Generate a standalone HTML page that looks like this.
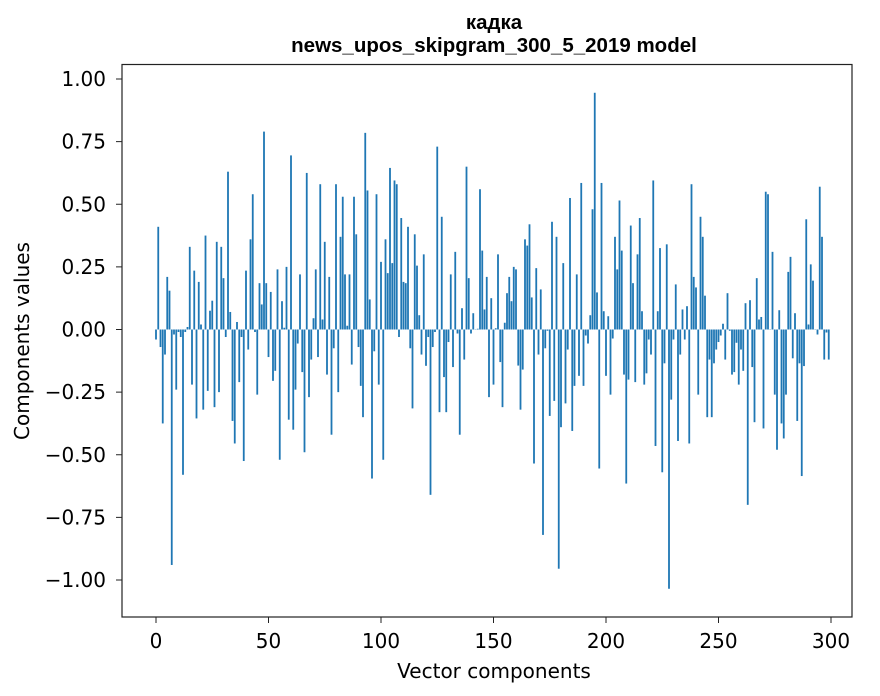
<!DOCTYPE html>
<html><head><meta charset="utf-8"><style>
html,body{margin:0;padding:0;background:#fff;}
svg{display:block;font-family:"DejaVu Sans","Liberation Sans",sans-serif;}
</style></head><body>
<svg id="chart" width="880" height="696" viewBox="0 0 880 696">
<text x="494" y="29" text-anchor="middle" font-size="20.5" font-weight="bold" font-family="Liberation Sans, sans-serif">кадка</text>
<text x="494" y="52" text-anchor="middle" font-size="20.5" font-weight="bold" font-family="Liberation Sans, sans-serif">news_upos_skipgram_300_5_2019 model</text>
<g id="bars"></g>
<g id="xticks"></g>
<g id="yticks"></g>
<rect x="122" y="64.5" width="730" height="552.5" fill="none" stroke="#222" stroke-width="1.2"/>
<text x="494" y="678" text-anchor="middle" font-size="20">Vector components</text>
<text transform="translate(29,341) rotate(-90)" text-anchor="middle" font-size="20">Components values</text>
</svg>
<script>
const values = [
-0.04,0.41,-0.07,-0.375,-0.10,0.21,0.155,-0.94,-0.02,-0.24,
-0.01,-0.03,-0.58,-0.01,0.01,0.33,-0.22,0.235,-0.355,0.19,
0.02,-0.32,0.375,-0.245,0.075,0.115,-0.31,0.35,-0.25,0.33,
0.205,-0.03,0.63,0.07,-0.365,-0.455,0.03,-0.21,-0.03,-0.525,
0.235,-0.08,0.36,0.54,-0.01,-0.26,0.185,0.10,0.79,0.185,
-0.11,0.15,-0.205,-0.165,0.24,-0.52,0.113,0.007,0.25,-0.36,
0.695,-0.40,-0.24,-0.056,0.22,-0.17,-0.49,0.625,-0.27,-0.12,
0.045,0.24,-0.11,0.58,0.04,0.35,-0.18,0.21,-0.42,-0.075,
0.58,-0.25,0.37,0.53,0.22,0.015,0.22,-0.14,0.53,0.38,
-0.07,-0.225,-0.35,0.785,0.555,0.12,-0.595,-0.087,0.54,-0.22,
0.27,-0.52,0.36,0.225,0.645,0.265,0.595,0.58,-0.03,0.445,
0.19,0.185,0.41,-0.075,-0.315,0.38,0.255,0.057,-0.10,0.30,
-0.145,-0.03,-0.66,-0.07,-0.01,0.73,-0.33,0.45,-0.19,-0.33,
-0.05,0.22,-0.15,0.31,-0.016,-0.42,0.085,-0.12,0.65,0.205,
-0.016,0.065,0.0,0.003,0.56,0.315,0.08,0.21,-0.27,0.125,
-0.22,0.005,0.30,-0.13,-0.31,0.027,0.145,0.21,0.113,0.25,
0.24,-0.144,-0.32,-0.16,0.36,0.335,0.42,0.128,-0.535,0.245,
-0.10,0.16,-0.82,-0.075,-0.005,-0.345,0.43,-0.285,0.37,-0.955,
-0.39,0.265,-0.295,-0.08,0.525,-0.405,-0.225,0.22,-0.185,0.585,
-0.225,-0.024,-0.056,0.057,0.48,0.945,0.148,-0.555,0.585,0.073,
-0.185,0.053,-0.26,-0.036,0.37,0.24,0.515,0.315,-0.18,-0.615,
-0.20,0.415,0.185,-0.21,0.30,0.445,0.073,-0.22,-0.175,-0.04,
-0.10,0.595,-0.465,0.073,0.325,-0.57,-0.135,0.34,-1.035,-0.28,
-0.04,0.18,-0.445,-0.10,0.08,-0.04,0.093,-0.455,0.58,0.21,
0.168,-0.26,0.45,0.37,0.135,-0.35,-0.12,-0.35,-0.135,-0.08,
-0.05,-0.024,0.023,-0.12,0.145,-0.005,-0.18,-0.17,-0.053,-0.22,
-0.08,-0.165,0.105,-0.70,0.117,-0.15,-0.37,0.205,0.04,0.05,
-0.395,0.55,0.54,0.0,0.31,-0.26,-0.48,0.077,-0.375,-0.435,
-0.26,0.23,0.29,-0.115,0.065,-0.365,-0.135,-0.585,-0.146,0.44,
0.02,0.26,0.195,0.0,-0.02,0.57,0.37,-0.12,-0.012,-0.12
];
const xTicks = [0,50,100,150,200,250,300];
const yTicks = [-1.00,-0.75,-0.50,-0.25,0.00,0.25,0.50,0.75,1.00];
const NS = "http://www.w3.org/2000/svg";
function xs(v){return 156 + 2.25*v;}
function ys(v){return 329.5 - 250.5*v;}
const bars = document.getElementById('bars');
values.forEach((v,i)=>{
  const r = document.createElementNS(NS,'rect');
  const y0 = ys(0), y1 = ys(v);
  r.setAttribute('x', xs(i)-0.9);
  r.setAttribute('width', 1.8);
  r.setAttribute('y', Math.min(y0,y1));
  r.setAttribute('height', Math.max(Math.abs(y1-y0),0.3));
  r.setAttribute('fill','#1f77b4');
  
  
  bars.appendChild(r);
});
const xg = document.getElementById('xticks');
xTicks.forEach(t=>{
  const l = document.createElementNS(NS,'line');
  l.setAttribute('x1',xs(t));l.setAttribute('x2',xs(t));
  l.setAttribute('y1',617);l.setAttribute('y2',623);
  l.setAttribute('stroke','#222');
  
  
  xg.appendChild(l);
  const tx = document.createElementNS(NS,'text');
  tx.setAttribute('x',xs(t));tx.setAttribute('y',648);
  tx.setAttribute('text-anchor','middle');tx.setAttribute('font-size','20');
  tx.textContent = t;
  
  
  xg.appendChild(tx);
});
const yg = document.getElementById('yticks');
yTicks.forEach(t=>{
  const l = document.createElementNS(NS,'line');
  l.setAttribute('x1',116);l.setAttribute('x2',122);
  l.setAttribute('y1',ys(t));l.setAttribute('y2',ys(t));
  l.setAttribute('stroke','#222');
  
  
  yg.appendChild(l);
  const tx = document.createElementNS(NS,'text');
  tx.setAttribute('x',106);tx.setAttribute('y',ys(t)+7);
  tx.setAttribute('text-anchor','end');tx.setAttribute('font-size','20');
  tx.textContent = (t<0?'\u2212':'') + Math.abs(t).toFixed(2);
  
  
  yg.appendChild(tx);
});
</script>
</body></html>
